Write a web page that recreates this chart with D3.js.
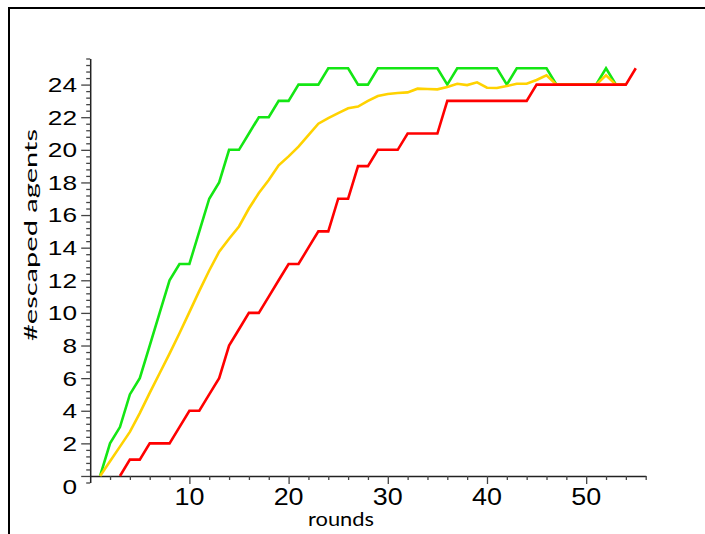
<!DOCTYPE html>
<html>
<head>
<meta charset="utf-8">
<script src="https://cdn.jsdelivr.net/npm/d3@7/dist/d3.min.js"></script>
<style>
  html, body { margin: 0; padding: 0; background: #fff; }
  svg { display: block; }
</style>
</head>
<body>
<svg id="chart" width="705" height="534"></svg>
<script>
// ---- data ----
const greenRounds = [1,2,3,4,5,6,7,8,9,10,11,12,13,14,15,16,17,18,19,20,21,22,23,24,25,26,27,28,29,30,31,32,33,34,35,36,37,38,39,40,41,42,43,44,45,46,47,48,49,50,51,52,53,54];
const greenValues = [0,2,3,5,6,8,10,12,13,13,15,17,18,20,20,21,22,22,23,23,24,24,24,25,25,25,24,24,25,25,25,25,25,25,25,24,25,25,25,25,25,24,25,25,25,25,24,24,24,24,24,25,24,24];

const yellowRounds = [1,2,3,4,5,6,7,8,9,10,11,12,13,14,15,16,17,18,19,20,21,22,23,24,25,26,27,28,29,30,31,32,33,34,35,36,37,38,39,40,41,42,43,44,45,46,47,48,49,50,51,52,53,54];
const yellowValues = [0,0.9,1.8,2.7,3.85,5.1,6.3,7.5,8.75,10.05,11.35,12.6,13.75,14.55,15.3,16.4,17.35,18.15,19.05,19.6,20.2,20.9,21.6,21.95,22.25,22.55,22.65,23.0,23.3,23.42,23.48,23.52,23.75,23.73,23.71,23.85,24.05,23.97,24.14,23.81,23.79,23.91,24.05,24.05,24.28,24.57,24,24,24,24,24,24.57,24,24];

const redRounds = [3,4,5,6,7,8,9,10,11,12,13,14,15,16,17,18,19,20,21,22,23,24,25,26,27,28,29,30,31,32,33,34,35,36,37,38,39,40,41,42,43,44,45,46,47,48,49,50,51,52,53,54,55];
const redValues = [0,1,1,2,2,2,3,4,4,5,6,8,9,10,10,11,12,13,13,14,15,15,17,17,19,19,20,20,20,21,21,21,21,23,23,23,23,23,23,23,23,23,24,24,24,24,24,24,24,24,24,24,25];

const xTickLabels = [10,20,30,40,50];
const yTickLabels = [0,2,4,6,8,10,12,14,16,18,20,22,24];
const xAxisTitle = "rounds";
const yAxisTitle = "#escaped agents";

// ---- layout ----
const svg = d3.select("#chart");
const x = d3.scaleLinear().domain([0, 56]).range([90.2, 645.7]);
const y = d3.scaleLinear().domain([-0.4, 25.6]).range([482.5, 58.5]);

// frame
svg.append("rect")
  .attr("x", 9).attr("y", 8)
  .attr("width", 740).attr("height", 560)
  .attr("fill", "none").attr("stroke", "#000").attr("stroke-width", 2);

// y axis
const yMinor = d3.range(-1, 65).map(i => Math.round(i * 0.4 * 10) / 10);
const isMajorY = v => Math.abs(v / 2 - Math.round(v / 2)) < 1e-6;
const yAxis = svg.append("g")
  .attr("transform", `translate(${x(0)},0)`)
  .call(d3.axisLeft(y).tickValues(yMinor).tickSize(4).tickSizeOuter(0).tickFormat(""));
yAxis.selectAll(".tick line")
  .attr("x2", d => isMajorY(d) ? -9 : -4)
  .attr("stroke", "#444").attr("stroke-width", 1.3);
yAxis.select(".domain").attr("stroke", "#222").attr("stroke-width", 1.5);

// x axis
const xMinor = d3.range(1, 29).map(i => i * 2);
const xAxis = svg.append("g")
  .attr("transform", `translate(0,${y(0)})`)
  .call(d3.axisBottom(x).tickValues(xMinor).tickSize(4).tickSizeOuter(0).tickFormat(""));
xAxis.selectAll(".tick line")
  .attr("y2", d => d % 10 === 0 ? 8 : 4)
  .attr("stroke", "#444").attr("stroke-width", 1.3);
xAxis.select(".domain").attr("stroke", "#222").attr("stroke-width", 1.5);

// y tick labels
svg.append("g").selectAll("text")
  .data(yTickLabels).join("text")
  .attr("transform", d => `translate(77,${y(d) + (d === 0 ? 11 : 0)}) scale(1.28,1)`)
  .attr("text-anchor", "end")
  .attr("dy", "0.36em")
  .attr("font-family", "'Liberation Sans', Arial, sans-serif")
  .attr("font-size", 20.5)
  .attr("fill", "#000")
  .text(d => d);

// x tick labels
svg.append("g").selectAll("text")
  .data(xTickLabels).join("text")
  .attr("transform", d => `translate(${x(d)},505) scale(1.17,1)`)
  .attr("text-anchor", "middle")
  .attr("font-family", "'Liberation Sans', Arial, sans-serif")
  .attr("font-size", 23)
  .attr("fill", "#000")
  .text(d => d);

// axis titles
svg.append("text")
  .attr("x", 341).attr("y", 526)
  .attr("text-anchor", "middle")
  .attr("font-family", "Lato, 'Open Sans', sans-serif")
  .attr("font-size", 18.5)
  .attr("textLength", 66).attr("lengthAdjust", "spacingAndGlyphs")
  .attr("fill", "#000")
  .text(xAxisTitle);

svg.append("text")
  .attr("transform", "translate(37,235) rotate(-90)")
  .attr("text-anchor", "middle")
  .attr("font-family", "Lato, 'Open Sans', sans-serif")
  .attr("font-size", 18)
  .attr("textLength", 212).attr("lengthAdjust", "spacingAndGlyphs")
  .attr("fill", "#000")
  .text(yAxisTitle);

// lines
const line = d3.line().x(d => x(d[0])).y(d => y(d[1]));
const series = [
  {r: greenRounds, v: greenValues, c: "#14e614"},
  {r: yellowRounds, v: yellowValues, c: "#ffd200"},
  {r: redRounds, v: redValues, c: "#ff0000"}
];
svg.append("g").selectAll("path")
  .data(series).join("path")
  .attr("d", s => line(s.r.map((r, i) => [r, s.v[i]])))
  .attr("fill", "none")
  .attr("stroke", s => s.c)
  .attr("stroke-width", 2.6)
  .attr("stroke-linejoin", "miter");
</script>
</body>
</html>
